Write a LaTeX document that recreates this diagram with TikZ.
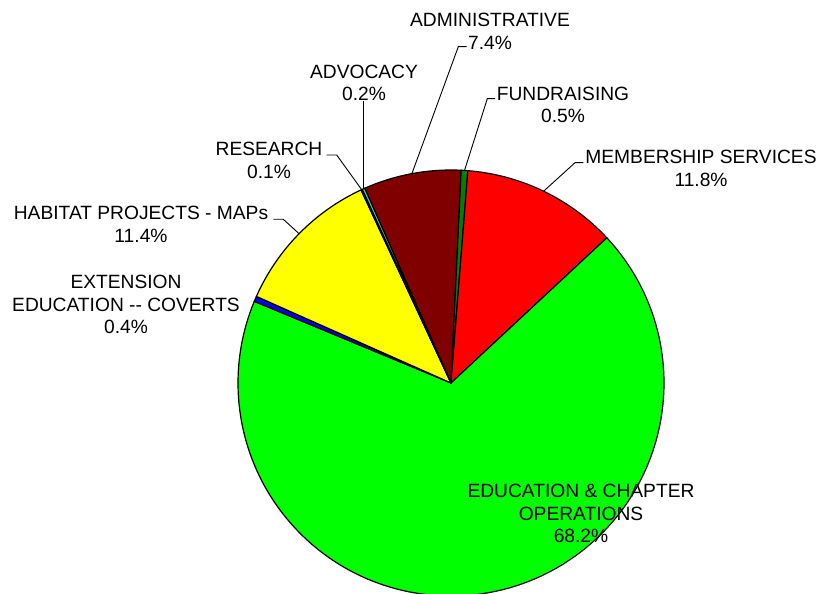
\documentclass[tikz,border=0pt]{standalone}
\usepackage{fontspec}
\setmainfont{Liberation Sans}
\definecolor{adminred}{HTML}{800000}
\definecolor{fundgreen}{HTML}{008000}
\definecolor{memberred}{HTML}{FF0000}
\definecolor{edugreen}{HTML}{00FF00}
\definecolor{extblue}{HTML}{0000FF}
\definecolor{habyellow}{HTML}{FFFF00}
\definecolor{resteal}{HTML}{800080}
\definecolor{advteal}{HTML}{33CCCC}
\tikzset{slice/.style={draw=black,line width=1.2pt,line join=round},
  lbl/.style={align=center,inner sep=0pt,font=\fontsize{19.2}{22.5}\selectfont},
  leader/.style={line width=0.9pt}}

\begin{document}
\begin{tikzpicture}[x=1pt,y=1pt]
  \useasboundingbox (0,0) rectangle (835,594);
  \coordinate (c) at (451,211);
  % slices, clockwise from the top
  \foreach \a/\b/\col in {113.90/87.26/adminred, 87.26/85.46/fundgreen,
      85.46/42.98/memberred, 42.98/-202.54/edugreen, 157.46/156.02/extblue,
      156.02/114.98/habyellow, 114.98/114.62/resteal, 114.62/113.90/advteal}
    \filldraw[slice,fill=\col] (c) -- ++(\a:213) arc[start angle=\a,end angle=\b,radius=213] -- cycle;
  % labels
  \node[lbl] (admin) at (490,562.5) {ADMINISTRATIVE\\7.4\%};
  \node[lbl] (fund) at (563,489.3) {FUNDRAISING\\0.5\%};
  \node[lbl] (member) at (701,425.7) {MEMBERSHIP SERVICES\\11.8\%};
  \node[lbl] (advocacy) at (364,511.3) {ADVOCACY\\0.2\%};
  \node[lbl] (research) at (269,433.5) {RESEARCH\\0.1\%};
  \node[lbl] (habitat) at (141,369.5) {HABITAT PROJECTS - MAPs\\11.4\%};
  \node[lbl] (extension) at (126,289.3) {EXTENSION\\EDUCATION -{}- COVERTS\\0.4\%};
  \node[lbl] (education) at (581,80.2) {EDUCATION \& CHAPTER\\OPERATIONS\\68.2\%};
  % leader lines
  \coordinate (admin tip) at ([shift={(100.58:213)}]c);
  \coordinate (fund tip) at ([shift={(86.36:213)}]c);
  \coordinate (member tip) at ([shift={(64.22:213)}]c);
  \coordinate (advocacy tip) at ([shift={(114.26:213)}]c);
  \coordinate (research tip) at ([shift={(114.80:213)}]c);
  \coordinate (habitat tip) at ([shift={(135.50:213)}]c);
  \coordinate (admin mark) at (466.7,547.3);
  \coordinate (fund mark) at (495,495.3);
  \coordinate (member mark) at (583.3,431.3);
  \coordinate (research mark) at (326.7,439);
  \coordinate (habitat mark) at (273.3,374.7);
  \draw[leader] (admin tip) -- ([xshift=-8.4pt]admin mark) -- (admin mark);
  \draw[leader] (fund tip) -- ([xshift=-7.7pt]fund mark) -- (fund mark);
  \draw[leader] (member tip) -- ([xshift=-8.3pt]member mark) -- (member mark);
  \draw[leader] (advocacy tip) -- (advocacy tip |- advocacy.south);
  \draw[leader] (research tip) -- ([xshift=10pt]research mark) -- (research mark);
  \draw[leader] (habitat tip) -- ([xshift=10pt]habitat mark) -- (habitat mark);
\end{tikzpicture}
\end{document}
